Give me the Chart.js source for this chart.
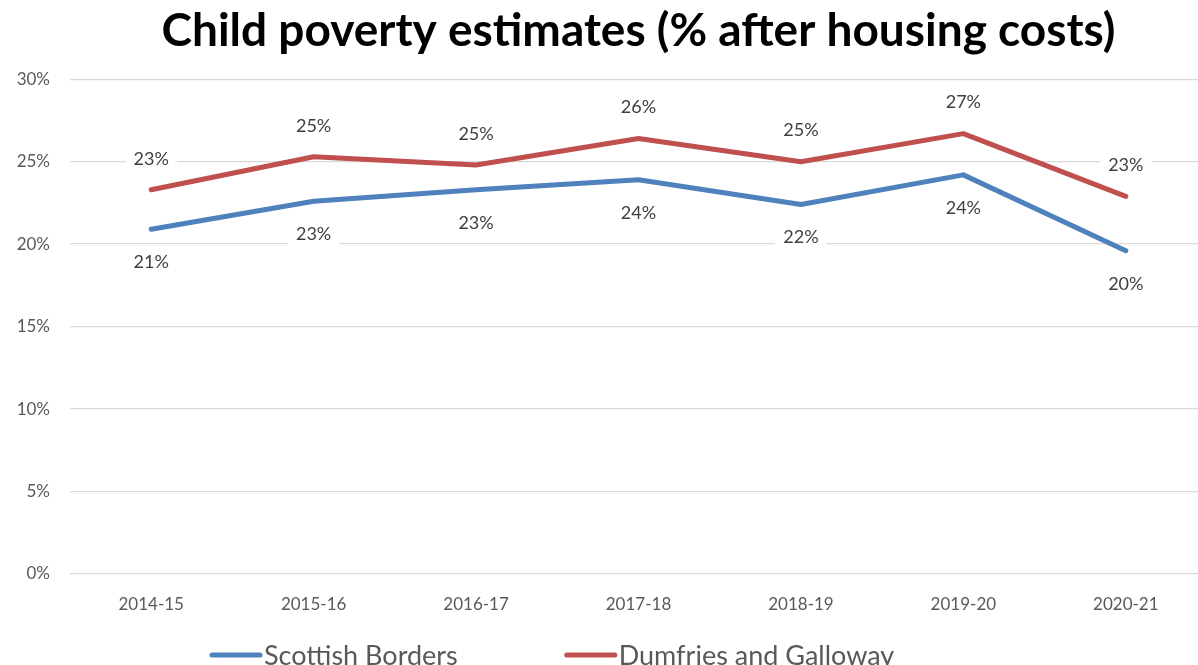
<!DOCTYPE html>
<html>
<head>
<meta charset="utf-8">
<script src="https://cdn.jsdelivr.net/npm/chart.js@4/dist/chart.umd.min.js"></script>
<style>
  html, body { margin: 0; padding: 0; background: #ffffff; overflow: hidden; }
  #wrap { width: 1210px; height: 665px; position: relative; }
</style>
</head>
<body>
<div id="wrap"><canvas id="c" width="1210" height="665"></canvas></div>
<script>
const titleText = 'Child poverty estimates (% after housing costs)';
const categories = ['2014-15', '2015-16', '2016-17', '2017-18', '2018-19', '2019-20', '2020-21'];
const seriesNames = ['Scottish Borders', 'Dumfries and Galloway'];
const bordersValues = [20.9, 22.6, 23.3, 23.9, 22.4, 24.2, 19.6];
const dumfriesValues = [23.3, 25.3, 24.8, 26.4, 25.0, 26.7, 22.9];
const yTicks = [0, 5, 10, 15, 20, 25, 30];
const colors = ['#4F81BD', '#C0504D'];

const FONT = 'Lato, "Open Sans", sans-serif';

const dataLabelPlugin = {
  id: 'dataLabels',
  afterDatasetsDraw(chart) {
    const ctx = chart.ctx;
    ctx.save();
    ctx.font = '18px ' + FONT;
    ctx.textAlign = 'center';
    ctx.textBaseline = 'middle';
    chart.data.datasets.forEach((ds, di) => {
      const meta = chart.getDatasetMeta(di);
      const off = di === 0 ? 33 : -31;
      meta.data.forEach((pt, i) => {
        const txt = Math.round(ds.data[i]) + '%';
        const w = ctx.measureText(txt).width + 16;
        const h = 34;
        const x = pt.x, y = pt.y + off;
        ctx.fillStyle = '#ffffff';
        ctx.fillRect(x - w / 2, y - h / 2, w, h);
        ctx.fillStyle = '#404040';
        ctx.fillText(txt, x, y);
      });
    });
    ctx.restore();
  }
};

const legendPlugin = {
  id: 'customLegend',
  afterDraw(chart) {
    const ctx = chart.ctx;
    ctx.save();
    ctx.font = '27px ' + FONT;
    ctx.textBaseline = 'middle';
    ctx.textAlign = 'left';
    let x = 212;
    const y = 655;
    chart.data.datasets.forEach((ds, di) => {
      ctx.strokeStyle = ds.borderColor;
      ctx.lineWidth = 5;
      ctx.lineCap = 'round';
      ctx.beginPath();
      ctx.moveTo(x, y);
      ctx.lineTo(x + 48, y);
      ctx.stroke();
      ctx.fillStyle = '#595959';
      ctx.fillText(ds.label, x + 52, y + 1);
      x += 52 + ctx.measureText(ds.label).width + 109;
    });
    ctx.restore();
  }
};

new Chart(document.getElementById('c'), {
  type: 'line',
  data: {
    labels: categories,
    datasets: [
      { label: seriesNames[0], data: bordersValues, borderColor: colors[0], backgroundColor: colors[0] },
      { label: seriesNames[1], data: dumfriesValues, borderColor: colors[1], backgroundColor: colors[1] }
    ]
  },
  options: {
    responsive: false,
    animation: false,
    devicePixelRatio: 1,
    layout: { padding: { left: 0, right: 3, top: 0, bottom: 0 } },
    elements: {
      line: { tension: 0, borderWidth: 5, borderCapStyle: 'round', borderJoinStyle: 'round' },
      point: { radius: 0, hoverRadius: 0 }
    },
    plugins: {
      legend: { display: false },
      tooltip: { enabled: false },
      title: {
        display: true,
        text: titleText,
        fullSize: false,
        color: '#000000',
        font: { family: FONT, size: 46, weight: 'bold' },
        padding: { top: 4, bottom: 20 }
      }
    },
    scales: {
      x: {
        type: 'category',
        offset: true,
        grid: { display: false, drawTicks: false },
        border: { display: false },
        ticks: { color: '#595959', font: { family: FONT, size: 17 }, padding: 20, maxRotation: 0 },
        afterFit(scale) { scale.height = 91; }
      },
      y: {
        min: 0,
        max: 30,
        afterBuildTicks(scale) { scale.ticks = yTicks.map(v => ({ value: v })); },
        grid: { color: '#D9D9D9', lineWidth: 1.3, drawTicks: false },
        border: { display: false },
        ticks: { color: '#595959', font: { family: FONT, size: 17 }, padding: 20, callback: v => v + '%' },
        afterFit(scale) { scale.width = 70; }
      }
    }
  },
  plugins: [dataLabelPlugin, legendPlugin]
});
</script>
</body>
</html>
